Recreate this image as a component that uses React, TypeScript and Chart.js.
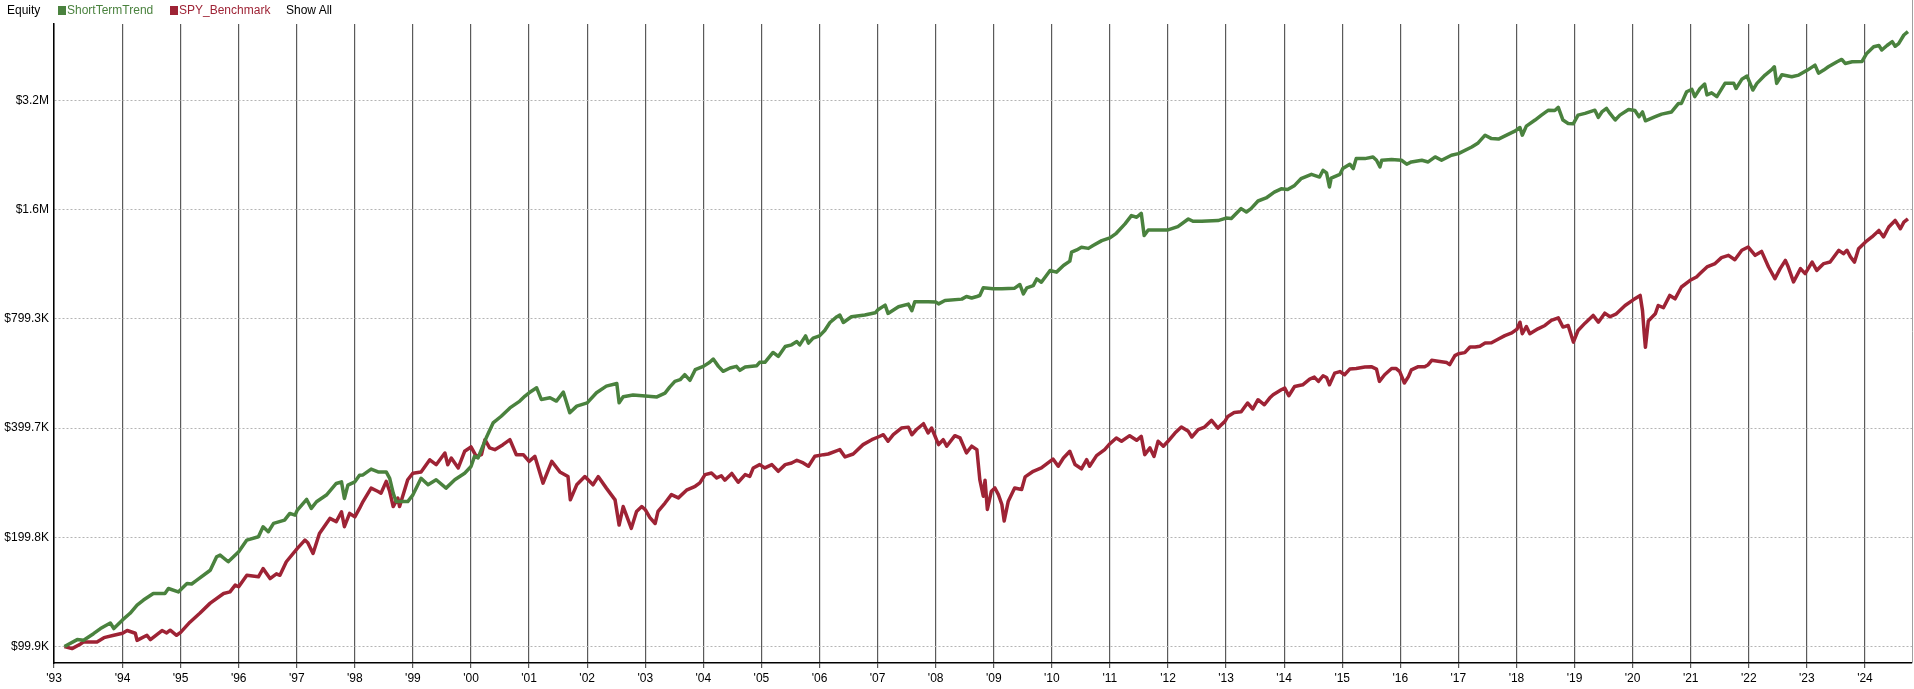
import React, { useEffect, useRef } from "react";
import { Chart, registerables } from "chart.js";

Chart.register(...registerables);

// ShortTermTrend equity (thousands of $), dates in decimal years
const strategyYears = [
  1993.0, 1993.22, 1993.33, 1993.5, 1993.62, 1993.79, 1993.85, 1994.0, 1994.13, 1994.25,
  1994.36, 1994.53, 1994.73, 1994.79, 1994.96, 1995.11, 1995.19, 1995.28, 1995.51, 1995.62,
  1995.68, 1995.82, 1996.0, 1996.14, 1996.34, 1996.42, 1996.51, 1996.6, 1996.79, 1996.88,
  1996.97, 1997.01, 1997.17, 1997.25, 1997.34, 1997.51, 1997.68, 1997.77, 1997.82, 1997.88,
  1998.0, 1998.08, 1998.14, 1998.28, 1998.4, 1998.54, 1998.6, 1998.66, 1998.71, 1998.91,
  1999.0, 1999.14, 1999.26, 1999.4, 1999.57, 1999.72, 1999.89, 2000.0, 2000.06, 2000.12,
  2000.26, 2000.38, 2000.52, 2000.67, 2000.84, 2000.93, 2001.0, 2001.13, 2001.21, 2001.36,
  2001.47, 2001.59, 2001.7, 2001.82, 2002.0, 2002.16, 2002.33, 2002.51, 2002.55, 2002.62,
  2002.79, 2003.0, 2003.2, 2003.34, 2003.42, 2003.51, 2003.6, 2003.68, 2003.77, 2003.86,
  2004.0, 2004.11, 2004.17, 2004.26, 2004.34, 2004.46, 2004.57, 2004.63, 2004.72, 2004.92,
  2004.97, 2005.06, 2005.2, 2005.29, 2005.41, 2005.52, 2005.61, 2005.66, 2005.76, 2005.81,
  2005.89, 2006.0, 2006.09, 2006.18, 2006.3, 2006.35, 2006.41, 2006.55, 2006.78, 2006.96,
  2007.0, 2007.13, 2007.18, 2007.36, 2007.53, 2007.59, 2007.64, 2007.87, 2008.0, 2008.05,
  2008.16, 2008.45, 2008.53, 2008.62, 2008.71, 2008.76, 2008.82, 2008.99, 2009.14, 2009.36,
  2009.45, 2009.51, 2009.57, 2009.68, 2009.74, 2009.82, 2009.97, 2010.08, 2010.2, 2010.31,
  2010.34, 2010.43, 2010.51, 2010.63, 2010.71, 2010.86, 2011.0, 2011.11, 2011.26, 2011.37,
  2011.46, 2011.54, 2011.59, 2011.66, 2012.0, 2012.17, 2012.35, 2012.43, 2012.58, 2012.86,
  2013.0, 2013.09, 2013.26, 2013.35, 2013.43, 2013.55, 2013.69, 2013.83, 2013.95, 2014.06,
  2014.18, 2014.29, 2014.47, 2014.61, 2014.67, 2014.73, 2014.78, 2014.81, 2014.96, 2015.01,
  2015.13, 2015.19, 2015.24, 2015.39, 2015.53, 2015.59, 2015.65, 2015.68, 2015.85, 2016.02,
  2016.11, 2016.19, 2016.37, 2016.48, 2016.6, 2016.71, 2016.88, 2017.0, 2017.23, 2017.34,
  2017.46, 2017.57, 2017.69, 2017.83, 2017.98, 2018.06, 2018.1, 2018.17, 2018.32, 2018.43,
  2018.55, 2018.66, 2018.72, 2018.8, 2018.89, 2018.98, 2019.06, 2019.18, 2019.35, 2019.41,
  2019.47, 2019.55, 2019.61, 2019.7, 2019.78, 2019.93, 2020.04, 2020.11, 2020.17, 2020.22,
  2020.39, 2020.5, 2020.67, 2020.79, 2020.84, 2020.93, 2021.02, 2021.07, 2021.16, 2021.24,
  2021.28, 2021.36, 2021.45, 2021.59, 2021.74, 2021.78, 2021.88, 2021.97, 2022.01, 2022.07,
  2022.14, 2022.28, 2022.4, 2022.44, 2022.48, 2022.57, 2022.74, 2022.86, 2023.01, 2023.14,
  2023.2, 2023.29, 2023.37, 2023.52, 2023.6, 2023.66, 2023.78, 2023.95, 2024.03, 2024.15,
  2024.24, 2024.29, 2024.38, 2024.47, 2024.52, 2024.58, 2024.67, 2024.74,
];
const strategyEquityK = [
  99.9, 104.4, 104.0, 108.4, 112.0, 116.0, 112.0, 118.3, 123.4, 130.0,
  134.2, 139.9, 139.9, 144.4, 141.3, 149.1, 148.6, 152.2, 162.1, 176.6,
  178.5, 171.1, 182.4, 196.3, 200.5, 213.7, 207.0, 218.2, 222.9, 232.5,
  230.0, 237.5, 254.1, 240.0, 250.4, 261.3, 281.2, 284.1, 255.7, 278.2,
  284.1, 296.3, 296.9, 308.0, 302.6, 302.6, 290.5, 264.4, 250.7, 250.7,
  261.6, 290.5, 278.8, 287.9, 273.0, 287.9, 300.1, 313.1, 333.9, 330.5,
  375.1, 412.9, 430.8, 454.2, 474.3, 489.7, 499.9, 516.0, 479.2, 484.3,
  474.3, 501.9, 440.3, 459.3, 469.0, 499.9, 521.4, 530.4, 469.0, 487.3,
  492.7, 489.7, 487.0, 499.0, 518.4, 537.5, 543.2, 560.8, 541.0, 578.9,
  591.1, 606.5, 619.3, 591.1, 572.9, 584.9, 591.1, 576.4, 588.6, 593.6,
  606.5, 606.5, 645.6, 629.6, 670.7, 677.7, 691.9, 677.7, 717.3, 684.8,
  707.1, 717.3, 742.4, 780.9, 810.1, 818.6, 780.9, 810.1, 818.6, 830.6,
  845.1, 872.0, 827.2, 863.0, 877.5, 841.6, 891.0, 891.0, 890.0, 878.6,
  897.7, 905.7, 920.9, 912.3, 920.9, 926.7, 973.0, 966.9, 966.9, 971.0,
  993.7, 936.4, 973.0, 986.8, 1029.5, 1008.3, 1086.1, 1074.9, 1121.3, 1152.8,
  1219.8, 1237.7, 1258.5, 1249.8, 1272.5, 1312.8, 1335.7, 1375.2, 1459.6, 1538.6,
  1522.7, 1561.2, 1355.5, 1405.2, 1405.2, 1434.8, 1506.0, 1484.0, 1484.0, 1490.7,
  1515.0, 1510.0, 1608.6, 1574.6, 1608.6, 1688.0, 1721.0, 1786.0, 1824.0, 1815.0,
  1864.0, 1945.0, 2000.0, 1965.0, 2051.0, 2017.0, 1845.0, 1952.0, 2000.0, 2074.0,
  2132.0, 2074.0, 2209.0, 2209.0, 2233.0, 2186.0, 2096.0, 2186.0, 2195.0, 2186.0,
  2132.0, 2163.0, 2186.0, 2163.0, 2233.0, 2186.0, 2256.0, 2280.0, 2378.0, 2440.0,
  2563.0, 2508.0, 2500.0, 2563.0, 2633.0, 2691.0, 2563.0, 2715.0, 2822.0, 2911.0,
  3004.0, 2998.0, 3057.0, 2822.0, 2762.0, 2757.0, 2911.0, 2943.0, 3004.0, 2870.0,
  2970.0, 3038.0, 2943.0, 2822.0, 2911.0, 3018.0, 2998.0, 2882.0, 2970.0, 2808.0,
  2882.0, 2930.0, 2970.0, 3136.0, 3136.0, 3377.0, 3427.0, 3273.0, 3448.0, 3546.0,
  3310.0, 3354.0, 3273.0, 3561.0, 3566.0, 3448.0, 3653.0, 3729.0, 3600.0, 3413.0,
  3561.0, 3753.0, 3889.0, 3957.0, 3561.0, 3761.0, 3714.0, 3753.0, 3874.0, 3998.0,
  3799.0, 3874.0, 3957.0, 4085.0, 4145.0, 4040.0, 4085.0, 4094.0, 4307.0, 4494.0,
  4528.0, 4400.0, 4528.0, 4639.0, 4506.0, 4583.0, 4840.0, 4946.0,
];

// SPY_Benchmark equity (thousands of $)
const benchmarkYears = [
  1993.0, 1993.13, 1993.27, 1993.33, 1993.56, 1993.68, 1993.85, 1994.0, 1994.08, 1994.22,
  1994.25, 1994.42, 1994.48, 1994.68, 1994.76, 1994.82, 1994.93, 1995.0, 1995.16, 1995.33,
  1995.51, 1995.74, 1995.85, 1995.94, 1996.0, 1996.14, 1996.34, 1996.42, 1996.54, 1996.65,
  1996.71, 1996.82, 1997.01, 1997.14, 1997.19, 1997.28, 1997.39, 1997.57, 1997.68, 1997.77,
  1997.82, 1997.91, 1998.0, 1998.08, 1998.14, 1998.28, 1998.4, 1998.45, 1998.54, 1998.6,
  1998.66, 1998.74, 1998.77, 1998.91, 1999.0, 1999.14, 1999.29, 1999.4, 1999.55, 1999.6,
  1999.66, 1999.78, 1999.89, 2000.0, 2000.09, 2000.18, 2000.24, 2000.32, 2000.41, 2000.55,
  2000.67, 2000.78, 2000.9, 2001.0, 2001.1, 2001.24, 2001.39, 2001.53, 2001.67, 2001.71,
  2001.82, 2001.96, 2002.1, 2002.19, 2002.33, 2002.48, 2002.55, 2002.62, 2002.76, 2002.85,
  2002.94, 2003.0, 2003.08, 2003.17, 2003.22, 2003.34, 2003.45, 2003.57, 2003.71, 2003.86,
  2003.94, 2004.03, 2004.14, 2004.23, 2004.31, 2004.37, 2004.49, 2004.6, 2004.72, 2004.8,
  2004.86, 2004.97, 2005.06, 2005.18, 2005.29, 2005.41, 2005.52, 2005.61, 2005.72, 2005.81,
  2005.92, 2006.07, 2006.15, 2006.27, 2006.35, 2006.44, 2006.58, 2006.75, 2006.9, 2007.01,
  2007.1, 2007.18, 2007.27, 2007.41, 2007.53, 2007.59, 2007.67, 2007.79, 2007.87, 2007.93,
  2008.05, 2008.13, 2008.19, 2008.33, 2008.42, 2008.53, 2008.62, 2008.71, 2008.76, 2008.82,
  2008.85, 2008.89, 2008.96, 2009.02, 2009.08, 2009.14, 2009.18, 2009.25, 2009.36, 2009.48,
  2009.54, 2009.68, 2009.82, 2010.02, 2010.11, 2010.2, 2010.31, 2010.4, 2010.51, 2010.6,
  2010.65, 2010.77, 2010.91, 2011.0, 2011.11, 2011.2, 2011.34, 2011.46, 2011.54, 2011.6,
  2011.69, 2011.76, 2011.83, 2011.92, 2012.0, 2012.12, 2012.23, 2012.35, 2012.41, 2012.52,
  2012.63, 2012.75, 2012.86, 2012.98, 2013.03, 2013.14, 2013.26, 2013.37, 2013.46, 2013.55,
  2013.66, 2013.75, 2013.81, 2013.95, 2014.01, 2014.08, 2014.18, 2014.32, 2014.44, 2014.52,
  2014.59, 2014.67, 2014.73, 2014.78, 2014.87, 2014.96, 2015.04, 2015.13, 2015.24, 2015.39,
  2015.5, 2015.59, 2015.64, 2015.73, 2015.85, 2015.93, 2015.99, 2016.07, 2016.14, 2016.19,
  2016.31, 2016.42, 2016.48, 2016.54, 2016.65, 2016.8, 2016.85, 2016.94, 2017.0, 2017.11,
  2017.2, 2017.29, 2017.37, 2017.46, 2017.57, 2017.69, 2017.8, 2017.92, 2018.01, 2018.06,
  2018.1, 2018.17, 2018.23, 2018.37, 2018.49, 2018.6, 2018.72, 2018.8, 2018.89, 2018.98,
  2019.06, 2019.18, 2019.32, 2019.41, 2019.52, 2019.61, 2019.72, 2019.87, 2020.01, 2020.13,
  2020.17, 2020.2, 2020.22, 2020.27, 2020.39, 2020.44, 2020.53, 2020.64, 2020.73, 2020.84,
  2020.99, 2021.1, 2021.16, 2021.28, 2021.42, 2021.53, 2021.65, 2021.76, 2021.88, 2021.99,
  2022.11, 2022.22, 2022.34, 2022.45, 2022.54, 2022.63, 2022.68, 2022.77, 2022.89, 2022.97,
  2023.09, 2023.17, 2023.29, 2023.4, 2023.55, 2023.63, 2023.69, 2023.75, 2023.82, 2023.89,
  2024.01, 2024.12, 2024.24, 2024.32, 2024.41, 2024.52, 2024.61, 2024.67, 2024.74,
];
const benchmarkEquityK = [
  99.9, 98.6, 101.4, 102.9, 102.9, 105.7, 107.3, 108.7, 110.6, 108.7,
  103.9, 107.3, 104.4, 110.6, 108.9, 110.8, 107.3, 109.3, 116.6, 123.4,
  131.6, 139.9, 141.3, 147.5, 146.0, 157.0, 155.5, 163.8, 153.8, 158.5,
  157.0, 171.1, 186.2, 196.3, 193.1, 180.4, 204.7, 225.3, 220.7, 235.0,
  213.7, 232.5, 227.6, 240.0, 250.7, 273.0, 267.2, 264.4, 284.9, 267.2,
  242.9, 256.2, 242.9, 287.9, 300.1, 302.6, 326.8, 316.7, 341.2, 316.7,
  330.5, 310.2, 344.9, 354.5, 333.9, 337.5, 371.2, 352.3, 348.4, 359.7,
  371.2, 337.5, 337.5, 323.4, 333.9, 281.8, 323.4, 302.6, 293.7, 253.4,
  278.8, 293.7, 278.8, 293.7, 273.0, 253.4, 215.9, 242.9, 211.5, 235.5,
  242.9, 238.1, 226.3, 218.1, 235.6, 248.4, 262.0, 256.6, 269.4, 276.2,
  282.2, 297.4, 300.6, 291.2, 295.3, 287.0, 299.6, 283.4, 297.4, 294.0,
  310.3, 316.9, 310.3, 316.9, 303.8, 316.9, 320.3, 325.8, 320.3, 313.6,
  334.1, 337.6, 339.0, 344.9, 348.5, 332.7, 339.0, 359.8, 371.2, 377.6,
  383.2, 367.5, 383.2, 399.7, 402.0, 383.0, 396.0, 410.8, 387.2, 399.7,
  359.9, 371.2, 356.2, 380.8, 375.3, 341.3, 356.2, 348.5, 288.2, 259.3,
  287.0, 238.4, 267.7, 273.3, 262.0, 246.1, 221.6, 251.3, 273.3, 270.5,
  293.1, 303.8, 310.3, 328.3, 313.6, 330.4, 344.9, 317.0, 308.6, 327.0,
  313.6, 335.5, 348.5, 361.9, 375.3, 367.5, 380.8, 369.8, 379.2, 337.6,
  352.3, 333.9, 367.5, 356.2, 367.5, 387.2, 402.2, 391.4, 377.6, 395.5,
  402.2, 419.6, 399.7, 417.0, 430.3, 441.4, 443.0, 468.5, 451.0, 478.4,
  463.3, 483.4, 493.6, 509.6, 515.0, 490.6, 520.4, 525.9, 545.2, 552.1,
  537.4, 557.0, 551.0, 525.9, 566.4, 572.0, 560.6, 581.0, 583.0, 588.4,
  590.0, 581.0, 537.4, 560.6, 583.0, 583.0, 572.0, 532.0, 554.0, 578.0,
  590.0, 590.0, 597.5, 614.3, 611.0, 605.7, 597.5, 632.8, 640.7, 645.0,
  668.3, 668.3, 672.0, 685.4, 687.0, 703.3, 718.4, 730.7, 749.2, 782.4,
  727.0, 761.3, 727.0, 750.0, 766.2, 790.9, 804.3, 758.5, 766.2, 689.6,
  742.3, 777.6, 816.7, 782.4, 828.6, 810.0, 825.0, 869.8, 901.7, 927.2,
  842.0, 727.0, 667.4, 788.8, 825.0, 869.8, 857.8, 927.2, 907.5, 978.2,
  1020.5, 1042.5, 1065.0, 1110.7, 1134.8, 1178.6, 1195.9, 1163.0, 1234.6, 1260.6,
  1195.9, 1226.0, 1110.7, 1031.3, 1099.0, 1158.0, 1110.0, 1010.0, 1099.0, 1065.0,
  1146.0, 1087.0, 1134.8, 1146.0, 1234.6, 1208.4, 1234.6, 1184.0, 1146.0, 1247.5,
  1302.0, 1344.0, 1400.6, 1344.0, 1431.0, 1492.4, 1416.0, 1476.0, 1508.0,
];

const xTickValues = [
  1992.82, 1994, 1995, 1996, 1997, 1998, 1999, 2000, 2001, 2002, 2003, 2004, 2005, 2006, 2007, 2008,
  2009, 2010, 2011, 2012, 2013, 2014, 2015, 2016, 2017, 2018, 2019, 2020, 2021, 2022, 2023, 2024,
];
const xTickLabels = [
  "'93", "'94", "'95", "'96", "'97", "'98", "'99", "'00", "'01", "'02", "'03", "'04", "'05", "'06", "'07", "'08",
  "'09", "'10", "'11", "'12", "'13", "'14", "'15", "'16", "'17", "'18", "'19", "'20", "'21", "'22", "'23", "'24",
];
const yTickValuesK = [99.915, 199.83, 399.66, 799.32, 1598.64, 3197.28];
const yTickLabels = ["$99.9K", "$199.8K", "$399.7K", "$799.3K", "$1.6M", "$3.2M"];

const seriesNames = ["ShortTermTrend", "SPY_Benchmark"];
const seriesColors = ["#4A823E", "#9E2335"];

const X_MIN = 1992.82;
const X_MAX = 2024.81;
const Y_MIN_K = 90.0;
const Y_MAX_K = 5190;

const FONT = 'Arial, "Liberation Sans", sans-serif';

const frameLine = {
  id: "frameLine",
  afterDraw(chart: any) {
    const { ctx, chartArea } = chart;
    ctx.save();
    ctx.strokeStyle = "#a0a0a0";
    ctx.lineWidth = 1;
    ctx.beginPath();
    ctx.moveTo(chartArea.right + 0.5, 0);
    ctx.lineTo(chartArea.right + 0.5, chartArea.bottom);
    ctx.stroke();
    ctx.restore();
  },
};

export default function App() {
  const canvasRef = useRef<HTMLCanvasElement | null>(null);

  useEffect(() => {
    if (!canvasRef.current) return;
    const toPoints = (xs: number[], ys: number[]) => xs.map((x, i) => ({ x, y: ys[i] }));
    const chart = new Chart(canvasRef.current, {
      type: "line",
      data: {
        datasets: [
          {
            label: seriesNames[0],
            data: toPoints(strategyYears, strategyEquityK),
            borderColor: seriesColors[0],
            backgroundColor: seriesColors[0],
            borderWidth: 3.5,
            pointRadius: 0,
            tension: 0,
            borderJoinStyle: "round",
            fill: false,
          },
          {
            label: seriesNames[1],
            data: toPoints(benchmarkYears, benchmarkEquityK),
            borderColor: seriesColors[1],
            backgroundColor: seriesColors[1],
            borderWidth: 3.5,
            pointRadius: 0,
            tension: 0,
            borderJoinStyle: "round",
            fill: false,
          },
        ],
      },
      options: {
        animation: false,
        responsive: false,
        devicePixelRatio: 1,
        layout: { padding: { top: 24, right: 2, left: 0, bottom: 0 } },
        plugins: { legend: { display: false }, tooltip: { enabled: false } },
        scales: {
          x: {
            type: "linear",
            min: X_MIN,
            max: X_MAX,
            afterBuildTicks: (s: any) => {
              s.ticks = xTickValues.map((v) => ({ value: v }));
            },
            afterFit: (s: any) => {
              s.height = 26;
            },
            ticks: {
              autoSkip: false,
              maxRotation: 0,
              padding: 3,
              color: "#000",
              font: { family: FONT, size: 12 },
              callback: (_v: any, i: number) => xTickLabels[i],
            },
            grid: { color: "#5a5a5a", lineWidth: 1.2, drawTicks: true, tickLength: 5, tickColor: "#5a5a5a" },
            border: { color: "#000", width: 1.5 },
          },
          y: {
            type: "logarithmic",
            min: Y_MIN_K,
            max: Y_MAX_K,
            afterBuildTicks: (s: any) => {
              s.ticks = yTickValuesK.map((v) => ({ value: v }));
            },
            afterFit: (s: any) => {
              s.width = 54;
            },
            ticks: {
              autoSkip: false,
              padding: 5,
              color: "#000",
              font: { family: FONT, size: 12 },
              callback: (_v: any, i: number) => yTickLabels[i],
            },
            grid: { color: "#b4b4b4", lineWidth: 1, drawTicks: false },
            border: { color: "#000", width: 1.5, dash: [2, 2] },
          },
        },
      },
      plugins: [frameLine],
    } as any);
    return () => chart.destroy();
  }, []);

  const legendText: React.CSSProperties = {
    position: "absolute",
    top: 3,
    fontFamily: FONT,
    fontSize: 12,
    lineHeight: "15px",
    whiteSpace: "nowrap",
  };
  const swatch: React.CSSProperties = { position: "absolute", top: 6, width: 8, height: 9 };

  return (
    <div style={{ position: "fixed", left: 0, top: 0, width: 1914, height: 689, background: "#fff" }}>
      <canvas ref={canvasRef} width={1914} height={689} style={{ display: "block", width: 1914, height: 689 }} />
      <div style={{ ...legendText, left: 7, color: "#000" }}>Equity</div>
      <div style={{ ...swatch, left: 58, background: seriesColors[0] }} />
      <div style={{ ...legendText, left: 67, color: seriesColors[0] }}>{seriesNames[0]}</div>
      <div style={{ ...swatch, left: 170, background: seriesColors[1] }} />
      <div style={{ ...legendText, left: 179, color: seriesColors[1] }}>{seriesNames[1]}</div>
      <div style={{ ...legendText, left: 286, color: "#000" }}>Show All</div>
    </div>
  );
}
